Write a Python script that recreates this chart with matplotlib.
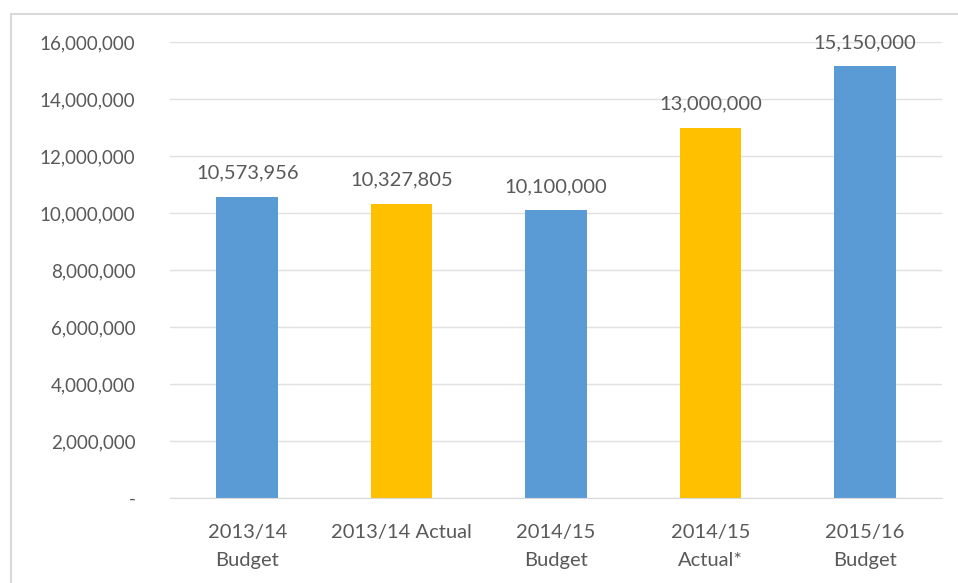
import matplotlib.pyplot as plt
from matplotlib.patches import Rectangle
from matplotlib.ticker import FuncFormatter
import numpy as np

categories = ['2013/14\nBudget', '2013/14 Actual', '2014/15\nBudget', '2014/15\nActual*', '2015/16\nBudget']
values = [10573956, 10327805, 10100000, 13000000, 15150000]
bar_colors = ['#5b9bd5', '#ffc000', '#5b9bd5', '#ffc000', '#5b9bd5']
y_ticks = [0, 2000000, 4000000, 6000000, 8000000, 10000000, 12000000, 14000000, 16000000]

plt.rcParams['font.family'] = ['Lato', 'DejaVu Sans']
text_color = '#595959'

fig = plt.figure(figsize=(9.58, 5.83), dpi=100)
ax = fig.add_axes([170 / 958, 85 / 583, 772 / 958, 456 / 583])

# chart border
fig.patches.append(Rectangle((11 / 958, -0.01), 1.0, (583 - 14) / 583 + 0.01,
                             transform=fig.transFigure, fill=False,
                             edgecolor='#d9d9d9', lw=1.5))

x = np.arange(len(categories))
bars = ax.bar(x, values, width=0.4, color=bar_colors, zorder=2)

for b, v in zip(bars, values):
    ax.text(b.get_x() + b.get_width() / 2, v + 520000, f'{v:,}',
            ha='center', va='bottom', fontsize=14.5, color=text_color)

ax.set_xlim(-0.5, len(categories) - 0.5)
ax.set_ylim(0, 16000000)
ax.set_yticks(y_ticks)
ax.yaxis.set_major_formatter(FuncFormatter(lambda v, p: '-' if v == 0 else f'{int(v):,}'))
ax.set_xticks(x)
ax.set_xticklabels(categories, linespacing=1.75)

ax.grid(axis='y', color='#e0e0e0', lw=1, zorder=0)
for s in ax.spines.values():
    s.set_visible(False)
ax.spines['bottom'].set_visible(True)
ax.spines['bottom'].set_color('#d9d9d9')
ax.tick_params(axis='both', length=0, colors=text_color)
ax.tick_params(axis='y', pad=25, labelsize=13.5)
ax.tick_params(axis='x', pad=19, labelsize=14.5)

fig.savefig('out.png', dpi=100)
